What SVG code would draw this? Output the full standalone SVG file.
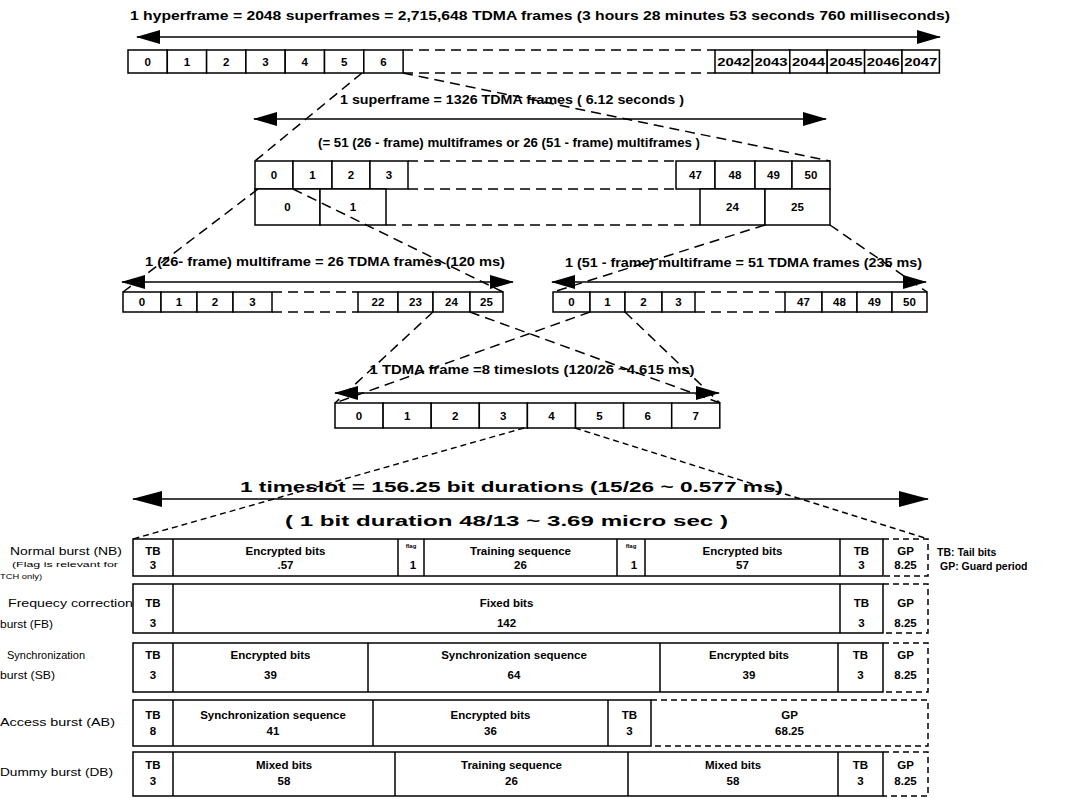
<svg xmlns="http://www.w3.org/2000/svg" width="1085" height="799" viewBox="0 0 1085 799">
<style>
  .bx{fill:#fff;stroke:#000;stroke-width:1.5}
  .ln{fill:none;stroke:#000;stroke-width:1.5}
  .dl{fill:none;stroke:#000;stroke-width:1.5;stroke-dasharray:10 6}
  .dg{fill:none;stroke:#000;stroke-width:1.5;stroke-dasharray:6 4}
  .df{fill:none;stroke:#000;stroke-width:1.4;stroke-dasharray:6 4}
  .ar{fill:none;stroke:#000;stroke-width:1.5}
  text{font-family:"Liberation Sans",Arial,sans-serif;fill:#000}
  .t{font-weight:bold;font-size:13px;text-anchor:middle}
  .tb{font-weight:bold;font-size:15px;text-anchor:middle}
  .n{font-weight:bold;font-size:11.5px;text-anchor:middle}
  .c{font-weight:bold;font-size:11.5px;text-anchor:middle}
  .fl{font-weight:bold;font-size:6px;text-anchor:middle}
  .s{font-size:11px}
  .ss{font-size:7.5px}
  .k{font-weight:bold;font-size:10.5px}
</style>
<defs>
  <marker id="ae" markerUnits="userSpaceOnUse" markerWidth="24" markerHeight="14" refX="23" refY="7" orient="auto">
    <path d="M0,0 L24,7 L0,14 z" fill="#000"/>
  </marker>
  <marker id="as" markerUnits="userSpaceOnUse" markerWidth="24" markerHeight="14" refX="23" refY="7" orient="auto-start-reverse">
    <path d="M0,0 L24,7 L0,14 z" fill="#000"/>
  </marker>
  <marker id="be" markerUnits="userSpaceOnUse" markerWidth="30" markerHeight="16" refX="29" refY="8" orient="auto">
    <path d="M0,0 L30,8 L0,16 z" fill="#000"/>
  </marker>
  <marker id="bs" markerUnits="userSpaceOnUse" markerWidth="30" markerHeight="16" refX="29" refY="8" orient="auto-start-reverse">
    <path d="M0,0 L30,8 L0,16 z" fill="#000"/>
  </marker>
</defs>

<!-- Hyperframe -->
<g id="hyperframe">
  <text class="t" x="540" y="20" textLength="820" lengthAdjust="spacingAndGlyphs">1 hyperframe = 2048 superframes = 2,715,648 TDMA frames (3 hours 28 minutes 53 seconds 760 milliseconds)</text>
  <line class="ar" x1="137" y1="37" x2="940" y2="37" marker-start="url(#as)" marker-end="url(#ae)"/>
  <rect class="bx" x="128" y="50" width="39.3" height="23"/>
  <rect class="bx" x="167.3" y="50" width="39.3" height="23"/>
  <rect class="bx" x="206.6" y="50" width="39.3" height="23"/>
  <rect class="bx" x="245.9" y="50" width="39.3" height="23"/>
  <rect class="bx" x="285.2" y="50" width="39.3" height="23"/>
  <rect class="bx" x="324.5" y="50" width="39.3" height="23"/>
  <rect class="bx" x="363.8" y="50" width="39.3" height="23"/>
  <text class="n" x="147.6" y="66">0</text>
  <text class="n" x="187" y="66">1</text>
  <text class="n" x="226.2" y="66">2</text>
  <text class="n" x="265.5" y="66">3</text>
  <text class="n" x="304.8" y="66">4</text>
  <text class="n" x="344.1" y="66">5</text>
  <text class="n" x="383.4" y="66">6</text>
  <line class="dl" x1="403" y1="50" x2="715" y2="50"/>
  <line class="dl" x1="403" y1="73" x2="715" y2="73"/>
  <rect class="bx" x="715" y="50" width="37.4" height="23"/>
  <rect class="bx" x="752.4" y="50" width="37.4" height="23"/>
  <rect class="bx" x="789.8" y="50" width="37.4" height="23"/>
  <rect class="bx" x="827.2" y="50" width="37.4" height="23"/>
  <rect class="bx" x="864.6" y="50" width="37.4" height="23"/>
  <rect class="bx" x="902" y="50" width="37.4" height="23"/>
  <text class="n" x="733.7" y="66" textLength="33" lengthAdjust="spacingAndGlyphs">2042</text>
  <text class="n" x="771.1" y="66" textLength="33" lengthAdjust="spacingAndGlyphs">2043</text>
  <text class="n" x="808.5" y="66" textLength="33" lengthAdjust="spacingAndGlyphs">2044</text>
  <text class="n" x="845.9" y="66" textLength="33" lengthAdjust="spacingAndGlyphs">2045</text>
  <text class="n" x="883.3" y="66" textLength="33" lengthAdjust="spacingAndGlyphs">2046</text>
  <text class="n" x="920.7" y="66" textLength="33" lengthAdjust="spacingAndGlyphs">2047</text>
</g>

<!-- Superframe -->
<g id="superframe">
  <text class="t" x="512" y="104" textLength="344" lengthAdjust="spacingAndGlyphs">1 superframe = 1326 TDMA frames ( 6.12 seconds )</text>
  <line class="ar" x1="254" y1="119" x2="826" y2="119" marker-start="url(#as)" marker-end="url(#ae)"/>
  <text class="t" x="509" y="147" textLength="382" lengthAdjust="spacingAndGlyphs">(= 51 (26 - frame) multiframes or 26 (51 - frame) multiframes )</text>
  <rect class="bx" x="255" y="161" width="38" height="28"/>
  <rect class="bx" x="293" y="161" width="39" height="28"/>
  <rect class="bx" x="332" y="161" width="38" height="28"/>
  <rect class="bx" x="370" y="161" width="38" height="28"/>
  <text class="n" x="274" y="179">0</text>
  <text class="n" x="312.5" y="179">1</text>
  <text class="n" x="351" y="179">2</text>
  <text class="n" x="389" y="179">3</text>
  <line class="dl" x1="408" y1="161" x2="676" y2="161"/>
  <line class="dl" x1="408" y1="189" x2="676" y2="189"/>
  <rect class="bx" x="676" y="161" width="39" height="28"/>
  <rect class="bx" x="715" y="161" width="40" height="28"/>
  <rect class="bx" x="755" y="161" width="37" height="28"/>
  <rect class="bx" x="792" y="161" width="38" height="28"/>
  <text class="n" x="695.5" y="179">47</text>
  <text class="n" x="735" y="179">48</text>
  <text class="n" x="773.5" y="179">49</text>
  <text class="n" x="811" y="179">50</text>
  <rect class="bx" x="255" y="189" width="65" height="36"/>
  <rect class="bx" x="320" y="189" width="66" height="36"/>
  <text class="n" x="287.5" y="211">0</text>
  <text class="n" x="353" y="211">1</text>
  <line class="dl" x1="386" y1="225" x2="700" y2="225"/>
  <rect class="bx" x="700" y="189" width="65" height="36"/>
  <rect class="bx" x="765" y="189" width="65" height="36"/>
  <text class="n" x="732.5" y="211">24</text>
  <text class="n" x="797.5" y="211">25</text>
</g>

<!-- 26-frame multiframe -->
<g id="multiframe26">
  <text class="t" x="325" y="266" textLength="360" lengthAdjust="spacingAndGlyphs">1 (26- frame) multiframe = 26 TDMA frames (120 ms)</text>
  <line class="ar" x1="122" y1="282" x2="513" y2="282" marker-start="url(#as)" marker-end="url(#ae)"/>
  <rect class="bx" x="123" y="292" width="38" height="20"/>
  <rect class="bx" x="161" y="292" width="36" height="20"/>
  <rect class="bx" x="197" y="292" width="36" height="20"/>
  <rect class="bx" x="233" y="292" width="39" height="20"/>
  <text class="n" x="142" y="306">0</text>
  <text class="n" x="179" y="306">1</text>
  <text class="n" x="215" y="306">2</text>
  <text class="n" x="252.5" y="306">3</text>
  <line class="dl" x1="272" y1="292" x2="358" y2="292"/>
  <line class="dl" x1="272" y1="312" x2="358" y2="312"/>
  <rect class="bx" x="358" y="292" width="40" height="20"/>
  <rect class="bx" x="398" y="292" width="35" height="20"/>
  <rect class="bx" x="433" y="292" width="37" height="20"/>
  <rect class="bx" x="470" y="292" width="33" height="20"/>
  <text class="n" x="378" y="306">22</text>
  <text class="n" x="415.5" y="306">23</text>
  <text class="n" x="451.5" y="306">24</text>
  <text class="n" x="486.5" y="306">25</text>
</g>

<!-- 51-frame multiframe -->
<g id="multiframe51">
  <text class="t" x="743.5" y="267" textLength="357" lengthAdjust="spacingAndGlyphs">1 (51 - frame) multiframe = 51 TDMA frames (235 ms)</text>
  <line class="ar" x1="552" y1="282" x2="926" y2="282" marker-start="url(#as)" marker-end="url(#ae)"/>
  <rect class="bx" x="553" y="292" width="37" height="20"/>
  <rect class="bx" x="590" y="292" width="35" height="20"/>
  <rect class="bx" x="625" y="292" width="37" height="20"/>
  <rect class="bx" x="662" y="292" width="33" height="20"/>
  <text class="n" x="571.5" y="306">0</text>
  <text class="n" x="607.5" y="306">1</text>
  <text class="n" x="643.5" y="306">2</text>
  <text class="n" x="678.5" y="306">3</text>
  <line class="dl" x1="695" y1="292" x2="785" y2="292"/>
  <line class="dl" x1="695" y1="312" x2="785" y2="312"/>
  <rect class="bx" x="785" y="292" width="37" height="20"/>
  <rect class="bx" x="822" y="292" width="35" height="20"/>
  <rect class="bx" x="857" y="292" width="35" height="20"/>
  <rect class="bx" x="892" y="292" width="35" height="20"/>
  <text class="n" x="803.5" y="306">47</text>
  <text class="n" x="839.5" y="306">48</text>
  <text class="n" x="874.5" y="306">49</text>
  <text class="n" x="909.5" y="306">50</text>
</g>

<!-- TDMA frame -->
<g id="tdmaframe">
  <text class="t" x="532" y="374" textLength="325" lengthAdjust="spacingAndGlyphs">1 TDMA frame =8 timeslots (120/26 ~4.615 ms)</text>
  <line class="ar" x1="335" y1="393" x2="719" y2="393" marker-start="url(#as)" marker-end="url(#ae)"/>
  <rect class="bx" x="335" y="403" width="48.1" height="25"/>
  <rect class="bx" x="383.1" y="403" width="48.1" height="25"/>
  <rect class="bx" x="431.2" y="403" width="48.1" height="25"/>
  <rect class="bx" x="479.3" y="403" width="48.1" height="25"/>
  <rect class="bx" x="527.4" y="403" width="48.1" height="25"/>
  <rect class="bx" x="575.5" y="403" width="48.1" height="25"/>
  <rect class="bx" x="623.6" y="403" width="48.1" height="25"/>
  <rect class="bx" x="671.7" y="403" width="48.1" height="25"/>
  <text class="n" x="359" y="420">0</text>
  <text class="n" x="407.1" y="420">1</text>
  <text class="n" x="455.2" y="420">2</text>
  <text class="n" x="503.3" y="420">3</text>
  <text class="n" x="551.4" y="420">4</text>
  <text class="n" x="599.5" y="420">5</text>
  <text class="n" x="647.6" y="420">6</text>
  <text class="n" x="695.7" y="420">7</text>
</g>

<!-- Timeslot -->
<g id="timeslot">
  <text class="tb" x="511.5" y="492" textLength="543" lengthAdjust="spacingAndGlyphs">1 timeslot = 156.25 bit durations (15/26 ~ 0.577 ms)</text>
  <line class="ar" x1="133" y1="499" x2="928" y2="499" marker-start="url(#bs)" marker-end="url(#be)"/>
  <text class="tb" x="506.5" y="526" textLength="443" lengthAdjust="spacingAndGlyphs">( 1 bit duration 48/13 ~ 3.69 micro sec )</text>
</g>

<!-- Normal burst -->
<g id="normal-burst">
  <text class="s" x="10" y="555" textLength="112" lengthAdjust="spacingAndGlyphs">Normal burst (NB)</text>
  <text class="ss" x="12" y="567" textLength="106" lengthAdjust="spacingAndGlyphs">(Flag is relevant for</text>
  <text class="ss" x="0" y="579" textLength="42" lengthAdjust="spacingAndGlyphs">TCH only)</text>
  <rect class="bx" x="133" y="539" width="750" height="37"/>
  <path class="ln" d="M173,539V576M398,539V576M424,539V576M617,539V576M645,539V576M840,539V576"/>
  <path class="dg" d="M883,539H928V576H883"/>
  <text class="c" x="153" y="555">TB</text><text class="c" x="153" y="569">3</text>
  <text class="c" x="285.5" y="555">Encrypted bits</text><text class="c" x="285.5" y="569">.57</text>
  <text class="fl" x="411" y="548">flag</text><text class="c" x="413" y="569">1</text>
  <text class="c" x="520.5" y="555">Training sequence</text><text class="c" x="520.5" y="569">26</text>
  <text class="fl" x="631" y="548">flag</text><text class="c" x="634" y="569">1</text>
  <text class="c" x="742.5" y="555">Encrypted bits</text><text class="c" x="742.5" y="569">57</text>
  <text class="c" x="861.5" y="555">TB</text><text class="c" x="861.5" y="569">3</text>
  <text class="c" x="905.5" y="555">GP</text><text class="c" x="905.5" y="569">8.25</text>
  <text class="k" x="937" y="556">TB: Tail bits</text>
  <text class="k" x="940" y="570">GP: Guard period</text>
</g>

<!-- Frequency correction burst -->
<g id="fc-burst">
  <text class="s" x="8" y="607" textLength="125" lengthAdjust="spacingAndGlyphs">Frequecy correction</text>
  <text class="s" x="0" y="628" textLength="53" lengthAdjust="spacingAndGlyphs">burst (FB)</text>
  <rect class="bx" x="133" y="584" width="750" height="49"/>
  <path class="ln" d="M173,584V633M840,584V633"/>
  <path class="dg" d="M883,584H928V633H883"/>
  <text class="c" x="153" y="607">TB</text><text class="c" x="153" y="627">3</text>
  <text class="c" x="506.5" y="607">Fixed bits</text><text class="c" x="506.5" y="627">142</text>
  <text class="c" x="861.5" y="607">TB</text><text class="c" x="861.5" y="627">3</text>
  <text class="c" x="905.5" y="607">GP</text><text class="c" x="905.5" y="627">8.25</text>
</g>

<!-- Synchronization burst -->
<g id="sync-burst">
  <text class="s" x="7" y="659" textLength="78" lengthAdjust="spacingAndGlyphs">Synchronization</text>
  <text class="s" x="0" y="679" textLength="55" lengthAdjust="spacingAndGlyphs">burst (SB)</text>
  <rect class="bx" x="133" y="643" width="750" height="49"/>
  <path class="ln" d="M173,643V692M368,643V692M660,643V692M838,643V692"/>
  <path class="dg" d="M883,643H928V692H883"/>
  <text class="c" x="153" y="659">TB</text><text class="c" x="153" y="679">3</text>
  <text class="c" x="270.5" y="659">Encrypted bits</text><text class="c" x="270.5" y="679">39</text>
  <text class="c" x="514" y="659">Synchronization sequence</text><text class="c" x="514" y="679">64</text>
  <text class="c" x="749" y="659">Encrypted bits</text><text class="c" x="749" y="679">39</text>
  <text class="c" x="860.5" y="659">TB</text><text class="c" x="860.5" y="679">3</text>
  <text class="c" x="905.5" y="659">GP</text><text class="c" x="905.5" y="679">8.25</text>
</g>

<!-- Access burst -->
<g id="access-burst">
  <text class="s" x="0" y="726" textLength="115" lengthAdjust="spacingAndGlyphs">Access burst (AB)</text>
  <rect class="bx" x="133" y="700" width="518" height="46"/>
  <path class="ln" d="M173,700V746M373,700V746M608,700V746"/>
  <path class="dg" d="M651,700H928V746H651"/>
  <text class="c" x="153" y="719">TB</text><text class="c" x="153" y="735">8</text>
  <text class="c" x="273" y="719">Synchronization sequence</text><text class="c" x="273" y="735">41</text>
  <text class="c" x="490.5" y="719">Encrypted bits</text><text class="c" x="490.5" y="735">36</text>
  <text class="c" x="629.5" y="719">TB</text><text class="c" x="629.5" y="735">3</text>
  <text class="c" x="789.5" y="719">GP</text><text class="c" x="789.5" y="735">68.25</text>
</g>

<!-- Dummy burst -->
<g id="dummy-burst">
  <text class="s" x="0" y="776" textLength="113" lengthAdjust="spacingAndGlyphs">Dummy burst (DB)</text>
  <rect class="bx" x="133" y="752" width="750" height="44"/>
  <path class="ln" d="M173,752V796M395,752V796M628,752V796M838,752V796"/>
  <path class="dg" d="M883,752H928V796H883"/>
  <text class="c" x="153" y="769">TB</text><text class="c" x="153" y="785">3</text>
  <text class="c" x="284" y="769">Mixed bits</text><text class="c" x="284" y="785">58</text>
  <text class="c" x="511.5" y="769">Training sequence</text><text class="c" x="511.5" y="785">26</text>
  <text class="c" x="733" y="769">Mixed bits</text><text class="c" x="733" y="785">58</text>
  <text class="c" x="860.5" y="769">TB</text><text class="c" x="860.5" y="785">3</text>
  <text class="c" x="905.5" y="769">GP</text><text class="c" x="905.5" y="785">8.25</text>
</g>

<!-- Connectors -->
<g id="connectors">
  <line class="dl" x1="362" y1="73" x2="255" y2="161"/>
  <line class="dl" x1="403" y1="73" x2="830" y2="161"/>
  <line class="dl" x1="258" y1="189" x2="123" y2="292"/>
  <line class="dl" x1="293" y1="189" x2="503" y2="292"/>
  <line class="dl" x1="765" y1="225" x2="553" y2="292"/>
  <line class="dl" x1="830" y1="225" x2="927" y2="292"/>
  <line class="dl" x1="433" y1="312" x2="335" y2="403"/>
  <line class="dl" x1="470" y1="312" x2="720" y2="403"/>
  <line class="dl" x1="590" y1="312" x2="335" y2="403"/>
  <line class="dl" x1="625" y1="312" x2="720" y2="403"/>
  <line class="df" x1="524" y1="428" x2="133" y2="539"/>
  <line class="df" x1="575" y1="428" x2="928" y2="539"/>
</g>
</svg>
